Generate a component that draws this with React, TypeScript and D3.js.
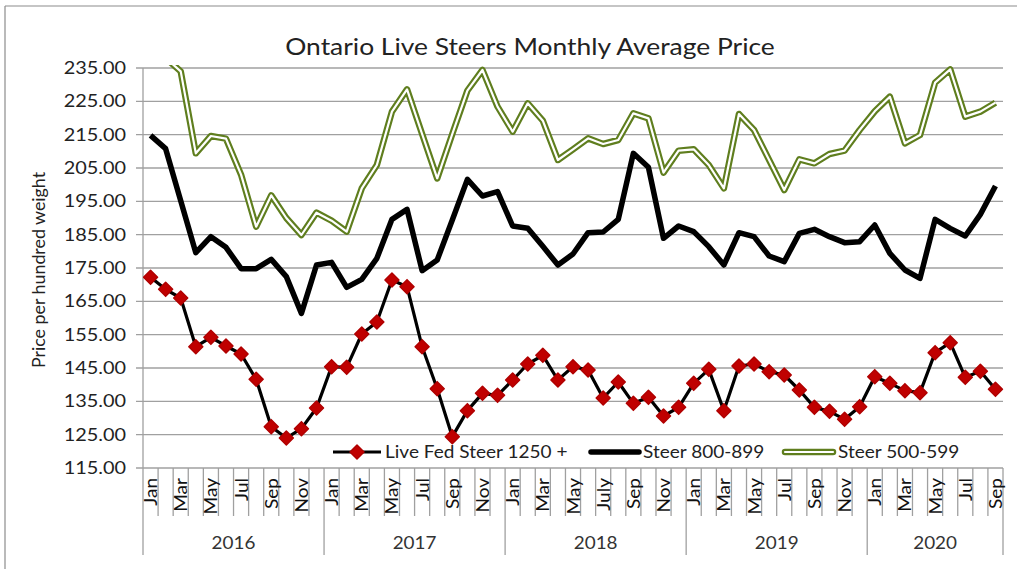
import React from "react";
import * as d3 from "d3";

const years = ["2016", "2017", "2018", "2019", "2020"];
const monthsPerYear = [12, 12, 12, 12, 9];
const monthLabels2016 = ["Jan", "", "Mar", "", "May", "", "Jul", "", "Sep", "", "Nov", ""];
const monthLabels2018 = ["Jan", "", "Mar", "", "May", "", "July", "", "Sep", "", "Nov", ""];

const liveFed = [
  172.2, 168.6, 166.0, 151.4, 154.2, 151.6, 149.2, 141.6, 127.4, 124.0, 126.8, 133.0,
  145.4, 145.2, 155.2, 158.8, 171.4, 169.4, 151.4, 138.8, 124.4, 132.2, 137.4, 136.8,
  141.4, 146.2, 148.8, 141.4, 145.4, 144.4, 136.0, 140.8, 134.4, 136.2, 130.6, 133.2,
  140.4, 144.6, 132.2, 145.6, 146.2, 143.9, 142.9, 138.4, 133.2, 132.0, 129.6, 133.4,
  142.4, 140.4, 138.2, 137.6, 149.6, 152.6, 142.2, 144.0, 138.6,
];
const steer800 = [
  214.8, 210.8, 195.2, 179.6, 184.4, 181.2, 174.8, 174.8, 177.6, 172.4, 161.4, 175.9,
  176.7, 169.2, 171.6, 177.9, 189.6, 192.6, 174.2, 177.4, 189.4, 201.6, 196.6, 197.9,
  187.6, 186.9, 181.5, 175.9, 179.2, 185.6, 185.8, 189.6, 209.4, 205.2, 183.9, 187.6,
  185.9, 181.4, 175.9, 185.6, 184.4, 178.6, 176.9, 185.4, 186.6, 184.4, 182.6, 182.9,
  187.9, 179.4, 174.4, 171.9, 189.6, 186.9, 184.6, 191.1, 199.6,
];
const steer500 = [
  245.0, 238.0, 234.0, 209.4, 214.6, 213.8, 203.0, 187.4, 196.8, 190.0, 184.9, 191.6,
  189.2, 185.9, 198.9, 205.9, 221.9, 228.6, 215.2, 201.9, 215.2, 228.2, 234.4, 223.4,
  215.9, 224.4, 219.2, 207.4, 210.6, 213.9, 212.2, 213.4, 221.4, 219.9, 203.6, 210.2,
  210.6, 205.9, 198.9, 221.2, 216.4, 207.4, 198.4, 207.6, 206.4, 209.2, 210.2, 216.4,
  222.0, 226.4, 212.4, 214.9, 230.6, 234.6, 220.4, 221.9, 224.6,
];
const yTicks = [115, 125, 135, 145, 155, 165, 175, 185, 195, 205, 215, 225, 235];

const seriesNames = ["Live Fed Steer 1250 +", "Steer 800-899", "Steer 500-599"];
const title = "Ontario Live Steers Monthly Average Price";
const yTitle = "Price per hundred weight";

const FONT = "Lato, 'Open Sans', sans-serif";

export default function App() {
  const W = 1026, H = 569;
  const left = 143, right = 1003, top = 68, bottom = 468;
  const monthLabels: string[] = [];
  years.forEach((y, yi) => {
    const src = y === "2018" ? monthLabels2018 : monthLabels2016;
    for (let m = 0; m < monthsPerYear[yi]; m++) monthLabels.push(src[m]);
  });
  const n = monthLabels.length;
  const idx = d3.range(n);
  const x = d3.scaleBand<number>().domain(idx).range([left, right]).padding(0);
  const bw = x.bandwidth();
  const cx = (i: number) => (x(i) as number) + bw / 2;
  const y = d3.scaleLinear().domain([115, 235]).range([bottom, top]);
  const line = d3.line<number>().x((_, i) => cx(i)).y((d) => y(d));

  const yearStarts: number[] = [];
  let acc = 0;
  monthsPerYear.forEach((m) => { yearStarts.push(acc); acc += m; });

  const green = "#5F7E1E";
  const diamond = "M0,-7L7,0L0,7L-7,0Z";
  const grid = "#A0A0A0";
  const legendTexts = [
    { x: 385, t: seriesNames[0] },
    { x: 643, t: seriesNames[1] },
    { x: 838, t: seriesNames[2] },
  ];

  return (
    <svg width={W} height={H} style={{ position: "absolute", left: 0, top: 0 }} fontFamily={FONT}>
      <rect x={0} y={0} width={W} height={H} fill="#fff" />
      <line x1={5} y1={6} x2={1017} y2={6} stroke="#8c8c8c" strokeWidth={1.2} />
      <line x1={5} y1={6} x2={5} y2={569} stroke="#8c8c8c" strokeWidth={1.2} />
      <defs>
        <clipPath id="plotclip">
          <rect x={left} y={top - 3} width={right - left + 10} height={bottom - top + 3} />
        </clipPath>
      </defs>
      <text transform="translate(530,55) scale(1.1,1)" textAnchor="middle" fontSize={24} fill="#222">{title}</text>

      {yTicks.map((t) => (
        <g key={t}>
          <line x1={left - 7} x2={right} y1={y(t)} y2={y(t)} stroke={grid} strokeWidth={1.3} />
          <text transform={`translate(126,${y(t) + 6}) scale(1.17,1)`} textAnchor="end" fontSize={17} fill="#222">{d3.format(".2f")(t)}</text>
        </g>
      ))}
      <line x1={left} x2={left} y1={top} y2={bottom} stroke={grid} strokeWidth={1.3} />

      <text transform={`translate(45,270) rotate(-90) scale(1.08,1)`} textAnchor="middle" fontSize={16.5} fill="#222">{yTitle}</text>

      {d3.range(n + 1).map((k) => {
        const xx = left + k * bw;
        const isYear = yearStarts.includes(k) || k === n;
        return <line key={k} x1={xx} x2={xx} y1={bottom} y2={isYear ? 555 : 516} stroke={grid} strokeWidth={1.3} />;
      })}
      {monthLabels.map((m, i) => m ? (
        <text key={i} transform={`translate(${cx(i) + 6.5},${bottom + 10}) rotate(-90) scale(1.12,1)`} textAnchor="end" fontSize={17} fill="#111">{m}</text>
      ) : null)}
      {years.map((yr, yi) => {
        const s = yearStarts[yi];
        const e = s + monthsPerYear[yi];
        const mid = left + ((s + e) / 2) * bw;
        return <text key={yr} transform={`translate(${mid},549) scale(1.05,1)`} textAnchor="middle" fontSize={18} fill="#333">{yr}</text>;
      })}

      <g clipPath="url(#plotclip)">
        <path d={line(liveFed) || ""} fill="none" stroke="#000" strokeWidth={3.2} strokeLinejoin="round" />
        {liveFed.map((v, i) => (
          <path key={i} d={diamond} transform={`translate(${cx(i)},${y(v)})`} fill="#C00000" stroke="#B00000" strokeWidth={1.5} strokeLinejoin="round" />
        ))}
        <path d={line(steer800) || ""} fill="none" stroke="#000" strokeWidth={5.5} strokeLinejoin="round" />
        <path d={line(steer500) || ""} fill="none" stroke={green} strokeWidth={6.5} strokeLinejoin="round" />
        <path d={line(steer500) || ""} fill="none" stroke="#fff" strokeWidth={2.2} strokeLinejoin="round" />
      </g>

      <g>
        <line x1={333} x2={381} y1={452} y2={452} stroke="#000" strokeWidth={3.2} />
        <path d={diamond} transform="translate(357,452)" fill="#C00000" stroke="#B00000" strokeWidth={1.5} strokeLinejoin="round" />
        <line x1={591} x2={639} y1={452} y2={452} stroke="#000" strokeWidth={5.5} strokeLinecap="round" />
        <line x1={785} x2={833} y1={452} y2={452} stroke={green} strokeWidth={6.5} strokeLinecap="round" />
        <line x1={785} x2={833} y1={452} y2={452} stroke="#fff" strokeWidth={2.2} strokeLinecap="round" />
        {legendTexts.map((l) => (
          <text key={l.t} transform={`translate(${l.x},458) scale(1.12,1)`} fontSize={17} fill="#222">{l.t}</text>
        ))}
      </g>
    </svg>
  );
}
